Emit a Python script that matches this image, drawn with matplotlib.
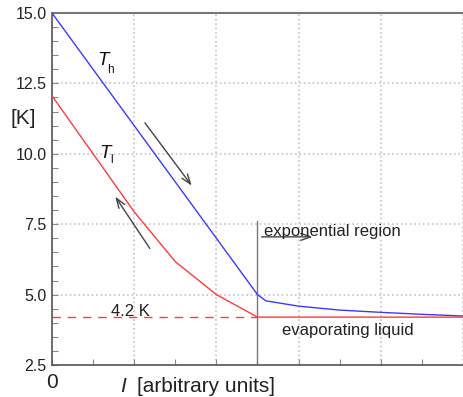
import matplotlib.pyplot as plt
from matplotlib.ticker import MultipleLocator, FixedLocator

plt.rcParams['font.family'] = ['Liberation Sans', 'DejaVu Sans']

# T_h (blue) and T_l (red) curves
th_x = [0, 2.5, 2.6, 3.0, 3.5, 4.0, 4.5, 5.0]
th_y = [15.0, 5.0, 4.78, 4.59, 4.45, 4.37, 4.30, 4.24]
tl_x = [0, 1.0, 1.5, 2.0, 2.5, 5.0]
tl_y = [12.06, 7.94, 6.17, 5.0, 4.2, 4.2]

helium_level = 4.2
exp_start = 2.5
y_ticks = [2.5, 5.0, 7.5, 10.0, 12.5, 15.0]

fig = plt.figure(figsize=(4.63, 3.97), dpi=100)
ax = fig.add_axes([0.1123, 0.0806, 0.8877, 0.8866])

ax.set_xlim(0, 5)
ax.set_ylim(2.5, 15.0)

# grid
ax.xaxis.set_major_locator(FixedLocator([0, 1, 2, 3, 4, 5]))
ax.xaxis.set_minor_locator(MultipleLocator(0.5))
ax.yaxis.set_major_locator(FixedLocator(y_ticks))
ax.yaxis.set_minor_locator(MultipleLocator(0.5))
ax.grid(True, which='major', color='#c4c4c4', linestyle=':', linewidth=1.2)

ax.tick_params(which='both', direction='in', color='#888888', length=4, width=0.8)
ax.tick_params(axis='y', labelsize=11.5, pad=4, labelcolor='#222222')
ax.tick_params(axis='x', labelsize=15, pad=6, labelcolor='#222222')
ax.set_yticklabels([f'{v:.1f}' for v in y_ticks])
ax.set_xticklabels(['0', '', '', '', '', ''])

for side in ['left', 'bottom']:
    ax.spines[side].set_color('#555555')
    ax.spines[side].set_linewidth(1.2)
ax.spines['top'].set_color('#777777')
ax.spines['top'].set_linewidth(1.5)
ax.spines['right'].set_visible(False)

# curves
ax.plot(th_x, th_y, color='#3a3aff', linewidth=1.0, zorder=3)
ax.plot(tl_x, tl_y, color='#ff3a3a', linewidth=1.0, zorder=4)
ax.plot([0, exp_start], [helium_level, helium_level], color='#ff3a3a',
        linewidth=1.0, dashes=(6, 5), zorder=4)
ax.plot([exp_start, exp_start], [2.5, 7.62], color='#777777', linewidth=1.0, zorder=2)

# arrows
arrow_kw = dict(arrowstyle='->,head_length=0.7,head_width=0.25',
                color='#444444', linewidth=1.0, shrinkA=0, shrinkB=0)
ax.annotate('', xy=(1.70, 8.87), xytext=(1.13, 11.10), arrowprops=arrow_kw)
ax.annotate('', xy=(0.77, 8.48), xytext=(1.19, 6.64), arrowprops=arrow_kw)
ax.annotate('', xy=(3.17, 7.05), xytext=(2.55, 7.05), arrowprops=arrow_kw)

# labels
ax.text(0.55, 13.15, 'T', fontsize=13.5, style='italic', va='baseline', color='#111111')
ax.text(0.67, 12.86, 'h', fontsize=8.5, va='baseline', color='#111111')
ax.text(0.58, 9.84, 'T', fontsize=13.5, style='italic', va='baseline', color='#111111')
ax.text(0.71, 9.66, 'l', fontsize=8.5, va='baseline', color='#111111')

ax.text(2.585, 7.08, 'exponential region', fontsize=12, va='baseline', color='#222222')
ax.text(2.80, 3.56, 'evaporating liquid', fontsize=12, va='baseline', color='#222222')
ax.text(0.716, 4.25, '4.2 K', fontsize=12, va='baseline', color='#222222')

ax.text(-0.07, 11.27, '[K]', fontsize=15, va='center', ha='center',
        transform=ax.get_yaxis_transform(), color='#222222')
ax.text(0.86, -0.035, 'I', fontsize=15, style='italic', va='top', ha='center',
        transform=ax.get_xaxis_transform(), color='#222222')
ax.text(1.03, -0.035, '[arbitrary units]', fontsize=15, va='top', ha='left',
        transform=ax.get_xaxis_transform(), color='#222222')

fig.savefig('out.png', dpi=100)
